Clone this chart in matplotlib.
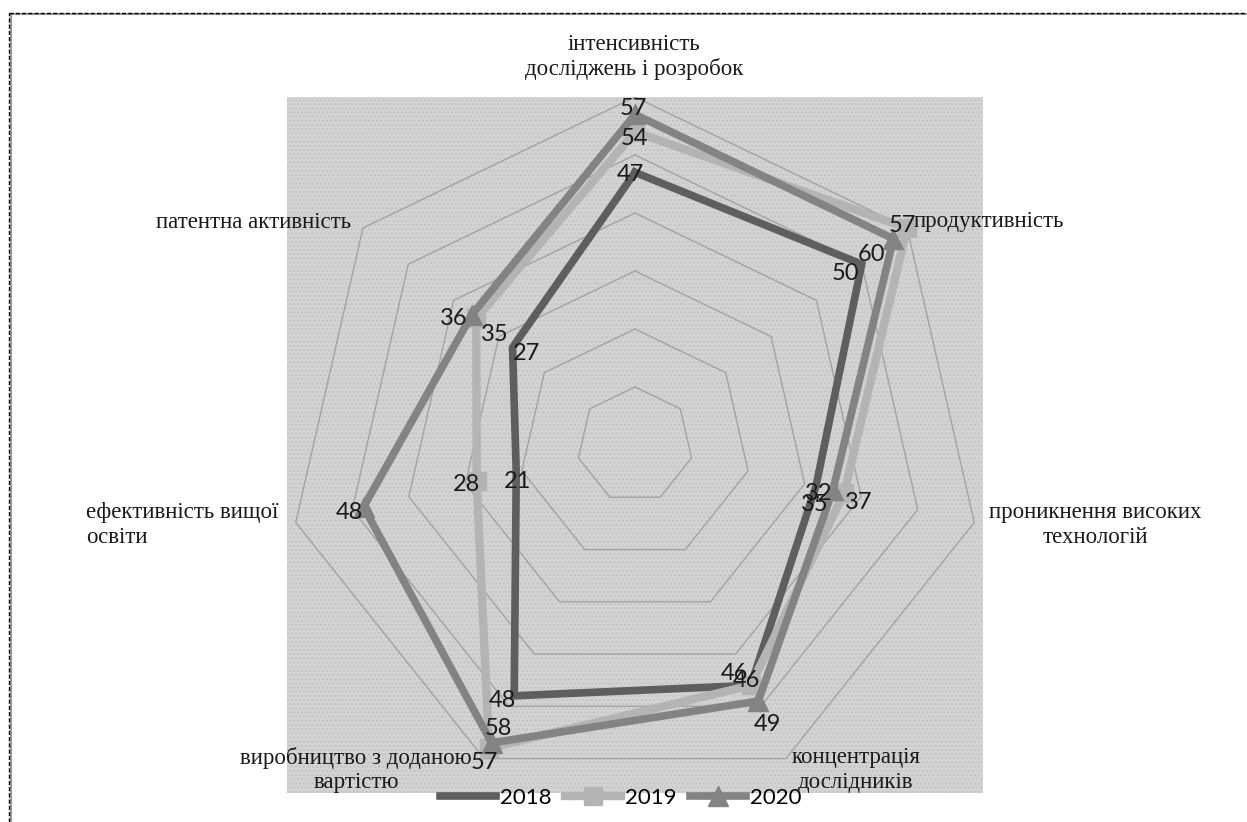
import numpy as np
import matplotlib.pyplot as plt
from matplotlib.lines import Line2D
from matplotlib.patches import Rectangle

# data
categories = ["інтенсивність\nдосліджень і розробок", "продуктивність",
              "проникнення високих\nтехнологій", "концентрація\nдослідників",
              "виробництво з доданою\nвартістю", "ефективність вищої\nосвіти",
              "патентна активність"]
years = ["2018", "2019", "2020"]
v2018 = [47, 50, 32, 46, 48, 21, 27]
v2019 = [54, 60, 37, 46, 58, 28, 35]
v2020 = [57, 57, 35, 49, 57, 48, 36]
ring_values = [10, 20, 30, 40, 50, 60]

# styles
W, H = 1247, 822
colors = ["#5e5e5e", "#b4b4b4", "#838383"]
markers = [None, "s", "^"]
msizes = [0, 13, 15]
lws = [5.5, 6, 5.5]
# data-label offsets in pixels (dx, dy downwards)
label_off = [
    [(-5, 2), (-16, 9), (3, 7), (-16, -12), (-12, 5), (1, 9), (14, 6)],
    [(-1, 7), (-36, 26), (14, 10), (-4, -5), (9, -20), (-10, 3), (18, 16)],
    [(-2, -6), (9, -13), (-18, 14), (9, 23), (-7, 20), (-14, 6), (-18, 4)],
]
serif = ["Liberation Serif", "DejaVu Serif"]
sans = ["Lato", "DejaVu Sans"]

fig = plt.figure(figsize=(W / 100, H / 100), dpi=100)
ax = fig.add_axes([287 / W, 29 / H, 696 / W, 696 / H])
ax.set_xlim(-60, 60)
ax.set_ylim(-60, 60)
ax.set_xticks([])
ax.set_yticks([])
for s in ax.spines.values():
    s.set_visible(False)
ax.set_facecolor("#d3d3d3")
ax.add_patch(Rectangle((0, 0), 1, 1, transform=ax.transAxes, facecolor="none",
                       edgecolor="#c4c4c4", hatch="....", lw=0, zorder=0))

n = len(categories)
ang = np.arange(n) * 2 * np.pi / n
ang_c = np.append(ang, ang[0])

for rv in ring_values:
    ax.plot(rv * np.sin(ang_c), rv * np.cos(ang_c), color="#a3a3a3", lw=1, zorder=1)

series = [v2018, v2019, v2020]
handles = []
for i, vals in enumerate(series):
    v = np.array(vals + vals[:1], dtype=float)
    line, = ax.plot(v * np.sin(ang_c), v * np.cos(ang_c), color=colors[i], lw=lws[i],
                    marker=markers[i], markevery=list(range(n)), ms=msizes[i],
                    solid_joinstyle="miter", zorder=2 + i, label=years[i])
    handles.append(line)
    for k in range(n):
        dx, dy = label_off[i][k]
        ax.annotate(str(vals[k]), (vals[k] * np.sin(ang[k]), vals[k] * np.cos(ang[k])),
                    xytext=(dx, -dy), textcoords="offset pixels", ha="center", va="center",
                    fontsize=17, family=sans, color="#1a1a1a", zorder=10)

# category labels
cat_pos = [(634, 57, "center", "center"), (914, 222, "left", "left"),
           (1095, 525, "center", "center"), (856, 770, "center", "center"),
           (356, 770, "center", "center"), (279, 525, "right", "left"),
           (351, 222, "right", "left")]
for txt, (px, py, ha, ma) in zip(categories, cat_pos):
    fig.text(px / W, 1 - py / H, txt, ha=ha, va="center", multialignment=ma,
             fontsize=16.5, family=serif, color="#1a1a1a", linespacing=1.2, zorder=11)

fig.legend(handles=handles, loc="center", bbox_to_anchor=(621 / W, 1 - 798 / H), ncol=3,
           frameon=False, prop={"family": sans, "size": 16}, handlelength=2.5,
           handletextpad=0.2, columnspacing=0.6, numpoints=1)

# dashed frame on the left and top
fig.add_artist(Line2D([10.5 / W, 10.5 / W], [0, 1 - 14 / H], transform=fig.transFigure,
                      color="#9a9a9a", lw=1.5))
fig.add_artist(Line2D([10 / W, 1], [1 - 14.5 / H, 1 - 14.5 / H], transform=fig.transFigure,
                      color="#9a9a9a", lw=1.5))
fig.add_artist(Line2D([9 / W, 9 / W], [0, 1 - 13 / H], transform=fig.transFigure,
                      color="black", lw=1, ls=(0, (3, 1.5))))
fig.add_artist(Line2D([9 / W, 1], [1 - 13 / H, 1 - 13 / H], transform=fig.transFigure,
                      color="black", lw=1, ls=(0, (3, 1.5))))

fig.savefig("out.png", dpi=100)
